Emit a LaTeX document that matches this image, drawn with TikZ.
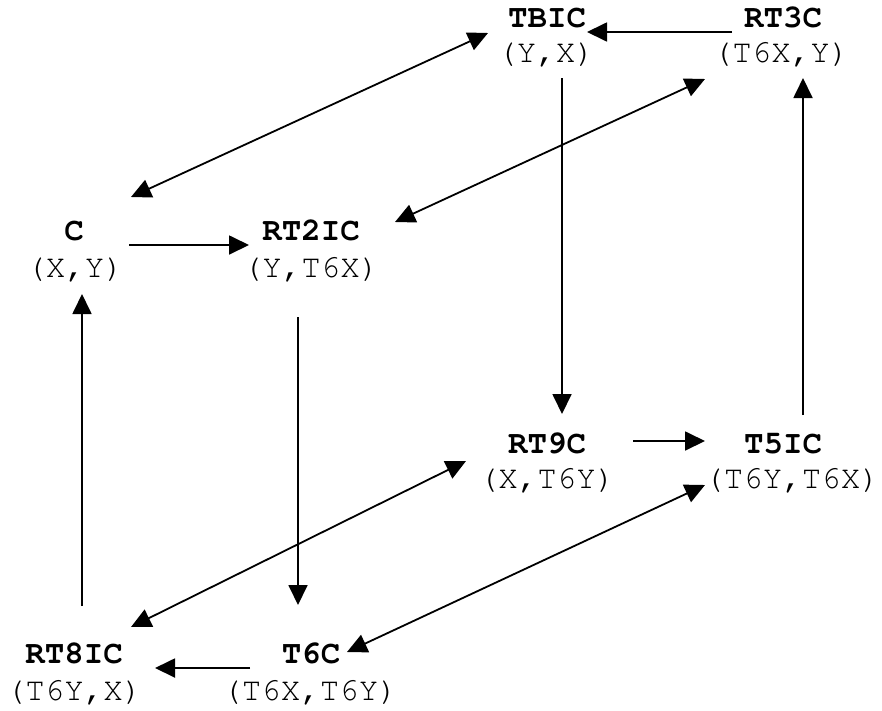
\documentclass[tikz,border=0pt]{standalone}
\usepackage[T1]{fontenc}
\usetikzlibrary{arrows.meta}

\tikzset{
  every picture/.style={x=1pt,y=-1pt},
  title/.style={anchor=base,inner sep=0pt,
    font=\fontencoding{T1}\fontfamily{pcr}\fontsize{32.5}{38}\selectfont\bfseries},
  value/.style={anchor=base,inner sep=0pt,
    font=\fontencoding{T1}\fontfamily{pcr}\fontsize{32.5}{38}\selectfont},
  conn/.style={line width=1.8pt,-{Triangle[length=20pt,width=19pt]}},
  both/.style={line width=1.8pt,{Triangle[length=20pt,width=19pt]}-{Triangle[length=20pt,width=19pt]}}
}

\begin{document}
\begin{tikzpicture}
\useasboundingbox (0,0) rectangle (882,710);

% states: bold name with its pair underneath
\node[title] (TBIC)  at (547,27)  {TBIC};
\node[value] (TBICv) at (546,62)  {(Y,X)};
\node[title] (RT3C)  at (783,27)  {RT3C};
\node[value] (RT3Cv) at (781,62)  {(T6X,Y)};
\node[title] (C)     at (74,240)  {C};
\node[value] (Cv)    at (75,277)  {(X,Y)};
\node[title] (RT2IC) at (311,240) {RT2IC};
\node[value] (RT2ICv) at (311,277) {(Y,T6X)};
\node[title] (RT9C)  at (547,453) {RT9C};
\node[value] (RT9Cv) at (547,488) {(X,T6Y)};
\node[title] (T5IC)  at (783,453) {T5IC};
\node[value] (T5ICv) at (792,488) {(T6Y,T6X)};
\node[title] (RT8IC) at (74,663)  {RT8IC};
\node[value] (RT8ICv) at (74,700) {(T6Y,X)};
\node[title] (T6C)   at (311,663) {T6C};
\node[value] (T6Cv)  at (310,700) {(T6X,T6Y)};

% one-way transitions
\draw[conn] ([shift={(-51,5)}]RT3C.base) -- ([shift={(40,5)}]TBIC.base);
\draw[conn] ([shift={(16,16)}]TBICv.base) -- ([shift={(15,-39)}]RT9C.base);
\draw[conn] ([shift={(20,-38)}]T5IC.base) -- ([shift={(22,16)}]RT3Cv.base);
\draw[conn] ([shift={(55,5)}]C.base) -- ([shift={(-62,5)}]RT2IC.base);
\draw[conn] ([shift={(-13,40)}]RT2ICv.base) -- ([shift={(-13,-58)}]T6C.base);
\draw[conn] ([shift={(8,-57)}]RT8IC.base) -- ([shift={(7,17)}]Cv.base);
\draw[conn] ([shift={(86,-12)}]RT9C.base) -- ([shift={(-78,-12)}]T5IC.base);
\draw[conn] ([shift={(-61,5)}]T6C.base) -- ([shift={(81,5)}]RT8IC.base);

% two-way transitions
\draw[both] ([shift={(57,-43)}]C.base) -- ([shift={(-59,6)}]TBIC.base);
\draw[both] ([shift={(84,-18)}]RT2IC.base) -- ([shift={(-76,17)}]RT3Cv.base);
\draw[both] ([shift={(57,-36)}]RT8IC.base) -- ([shift={(-81,-27)}]RT9Cv.base);
\draw[both] ([shift={(36,-11)}]T6C.base) -- ([shift={(-87,-3)}]T5ICv.base);
\end{tikzpicture}
\end{document}
